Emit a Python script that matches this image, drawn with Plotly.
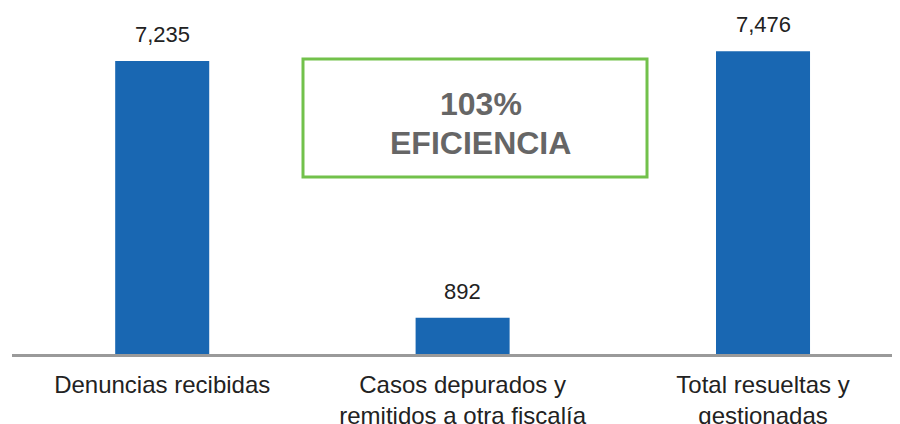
import plotly.graph_objects as go

categorias = ["Denuncias recibidas",
              "Casos depurados y<br>remitidos a otra fiscalía",
              "Total resueltas y<br>gestionadas"]
valores = [7235, 892, 7476]
etiquetas = ["7,235", "892", "7,476"]
eficiencia = "103%"

AZUL = "#1967B2"
VERDE = "#72C14B"
FUENTE = "Liberation Sans, Arial, Helvetica, sans-serif"

fig = go.Figure()
fig.add_trace(go.Bar(
    x=categorias,
    y=valores,
    width=0.313,
    marker=dict(color=AZUL, line=dict(width=0)),
    hoverinfo="skip",
))

# etiquetas de datos sobre cada barra
for c, v, t in zip(categorias, valores, etiquetas):
    fig.add_annotation(x=c, y=v, text=t, showarrow=False, yanchor="bottom",
                       yshift=12, font=dict(size=22, color="#222222", family=FUENTE))

# recuadro de eficiencia
fig.add_shape(type="rect", xref="paper", yref="paper",
              x0=0.3277, x1=0.7151, y0=0.5116, y1=0.8526,
              line=dict(color=VERDE, width=3), fillcolor="rgba(0,0,0,0)")
for texto, ypos in [(eficiencia, 0.7225), ("EFICIENCIA", 0.6098)]:
    fig.add_annotation(xref="paper", yref="paper", x=0.528, y=ypos,
                       xanchor="center", yanchor="middle",
                       text=f"<b>{texto}</b>", showarrow=False,
                       font=dict(size=32, color="#666666", family=FUENTE))

fig.update_layout(
    width=900, height=424,
    margin=dict(l=4, r=8, t=0, b=78),
    plot_bgcolor="white", paper_bgcolor="white",
    showlegend=False,
    font=dict(family=FUENTE, color="#222222"),
    xaxis=dict(
        range=[-0.5, 2.456], automargin=False,
        showline=True, linecolor="#9A9A9A", linewidth=2.5,
        showgrid=False, ticks="", ticklabelstandoff=7,
        tickfont=dict(size=24, color="#222222"),
    ),
    yaxis=dict(range=[0, 8543], visible=False, showgrid=False, automargin=False),
)

fig.write_html("out.html")
